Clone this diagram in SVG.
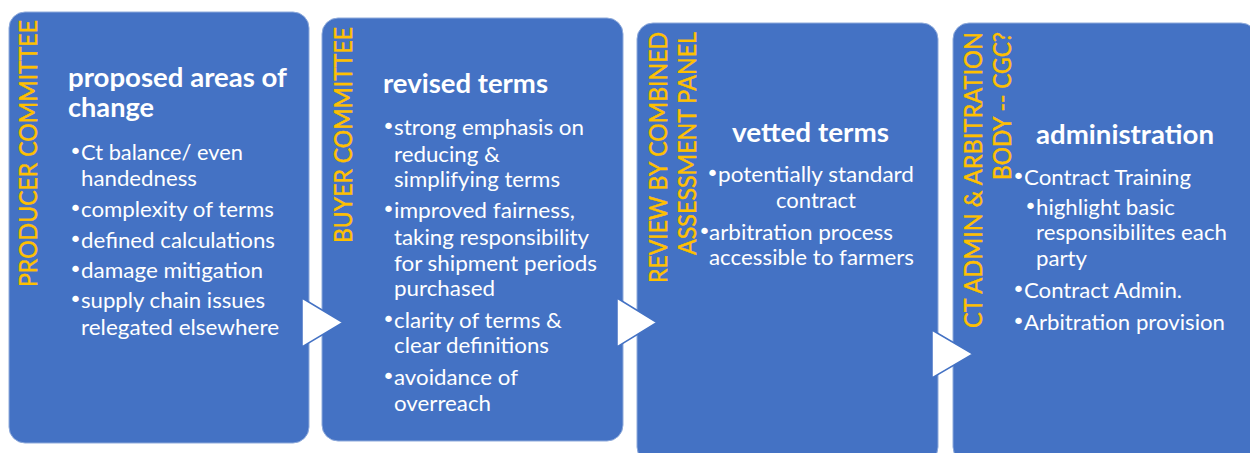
<svg xmlns="http://www.w3.org/2000/svg" width="1250" height="453" viewBox="0 0 1250 453">
<style>
.panel{fill:#4472C4;stroke:#8eaadb;stroke-width:1}
.vert{font-family:Lato,"Liberation Sans",sans-serif;font-size:25px;fill:#FFC000;stroke:#FFC000;stroke-width:0.45;text-anchor:end}
.title{font-family:Lato,"Liberation Sans",sans-serif;font-size:27px;font-weight:bold;fill:#ffffff}
.body{font-family:Lato,"Liberation Sans",sans-serif;font-size:22px;fill:#ffffff}
.bul{font-family:"DejaVu Sans",sans-serif;font-size:22px;fill:#ffffff;text-anchor:middle}
.arrow{fill:#ffffff;stroke:#4472C4;stroke-width:1.5;stroke-linejoin:miter}
</style>
<rect width="1250" height="453" fill="#ffffff"/>
<g id="node-producer">
<rect class="panel" x="9" y="12" width="300" height="431" rx="16"/>
<text class="vert" transform="translate(37,20) rotate(-90)" textLength="267" lengthAdjust="spacingAndGlyphs">PRODUCER COMMITTEE</text>
<text class="title" x="68" y="87" textLength="219" lengthAdjust="spacingAndGlyphs">proposed areas of</text>
<text class="title" x="68" y="117" textLength="86" lengthAdjust="spacingAndGlyphs">change</text>
<text class="bul" x="75.5" y="159">•</text><text class="body" x="81" y="160" textLength="162" lengthAdjust="spacingAndGlyphs">Ct balance/ even</text>
<text class="body" x="81" y="186" textLength="116" lengthAdjust="spacingAndGlyphs">handedness</text>
<text class="bul" x="75.5" y="216">•</text><text class="body" x="81" y="217" textLength="193" lengthAdjust="spacingAndGlyphs">complexity of terms</text>
<text class="bul" x="75.5" y="247">•</text><text class="body" x="81" y="248" textLength="194" lengthAdjust="spacingAndGlyphs">defined calculations</text>
<text class="bul" x="75.5" y="277">•</text><text class="body" x="81" y="278" textLength="182" lengthAdjust="spacingAndGlyphs">damage mitigation</text>
<text class="bul" x="75.5" y="307">•</text><text class="body" x="81" y="308" textLength="184" lengthAdjust="spacingAndGlyphs">supply chain issues</text>
<text class="body" x="81" y="335" textLength="198" lengthAdjust="spacingAndGlyphs">relegated elsewhere</text>
</g>
<g id="node-buyer">
<rect class="panel" x="322" y="18" width="301" height="423" rx="16"/>
<text class="vert" transform="translate(352,27) rotate(-90)" textLength="216" lengthAdjust="spacingAndGlyphs">BUYER COMMITTEE</text>
<text class="title" x="383" y="93" textLength="165" lengthAdjust="spacingAndGlyphs">revised terms</text>
<text class="bul" x="388.5" y="134">•</text><text class="body" x="394" y="135" textLength="190" lengthAdjust="spacingAndGlyphs">strong emphasis on</text>
<text class="body" x="394" y="162" textLength="106" lengthAdjust="spacingAndGlyphs">reducing &amp;</text>
<text class="body" x="394" y="187" textLength="166" lengthAdjust="spacingAndGlyphs">simplifying terms</text>
<text class="bul" x="388.5" y="217">•</text><text class="body" x="394" y="218" textLength="181" lengthAdjust="spacingAndGlyphs">improved fairness,</text>
<text class="body" x="394" y="245" textLength="195" lengthAdjust="spacingAndGlyphs">taking responsibility</text>
<text class="body" x="394" y="271" textLength="203" lengthAdjust="spacingAndGlyphs">for shipment periods</text>
<text class="body" x="394" y="296" textLength="101" lengthAdjust="spacingAndGlyphs">purchased</text>
<text class="bul" x="388.5" y="327">•</text><text class="body" x="394" y="328" textLength="168" lengthAdjust="spacingAndGlyphs">clarity of terms &amp;</text>
<text class="body" x="394" y="353" textLength="155" lengthAdjust="spacingAndGlyphs">clear definitions</text>
<text class="bul" x="388.5" y="384">•</text><text class="body" x="394" y="385" textLength="124" lengthAdjust="spacingAndGlyphs">avoidance of</text>
<text class="body" x="394" y="411" textLength="97" lengthAdjust="spacingAndGlyphs">overreach</text>
</g>
<g id="node-review">
<rect class="panel" x="637" y="23" width="301" height="440" rx="16"/>
<text class="vert" transform="translate(667,32) rotate(-90)" textLength="251" lengthAdjust="spacingAndGlyphs">REVIEW BY COMBINED</text>
<text class="vert" transform="translate(696,32) rotate(-90)" textLength="223" lengthAdjust="spacingAndGlyphs">ASSESSMENT PANEL</text>
<text class="title" x="732" y="142" textLength="157" lengthAdjust="spacingAndGlyphs">vetted terms</text>
<text class="bul" x="712.5" y="181">•</text><text class="body" x="718" y="182" textLength="196" lengthAdjust="spacingAndGlyphs">potentially standard</text>
<text class="body" x="776" y="208" textLength="80" lengthAdjust="spacingAndGlyphs">contract</text>
<text class="bul" x="704.5" y="239">•</text><text class="body" x="709" y="240" textLength="184" lengthAdjust="spacingAndGlyphs">arbitration process</text>
<text class="body" x="709" y="265" textLength="205" lengthAdjust="spacingAndGlyphs">accessible to farmers</text>
</g>
<g id="node-admin">
<rect class="panel" x="953" y="23" width="304" height="440" rx="16"/>
<text class="vert" transform="translate(982,32) rotate(-90)" textLength="296" lengthAdjust="spacingAndGlyphs">CT ADMIN &amp; ARBITRATION</text>
<text class="vert" transform="translate(1011,32) rotate(-90)" textLength="148" lengthAdjust="spacingAndGlyphs">BODY -- CGC?</text>
<text class="title" x="1036" y="144" textLength="178" lengthAdjust="spacingAndGlyphs">administration</text>
<text class="bul" x="1018.5" y="184">•</text><text class="body" x="1024" y="185" textLength="167" lengthAdjust="spacingAndGlyphs">Contract Training</text>
<text class="bul" x="1030.5" y="214">•</text><text class="body" x="1036" y="215" textLength="139" lengthAdjust="spacingAndGlyphs">highlight basic</text>
<text class="body" x="1036" y="240" textLength="191" lengthAdjust="spacingAndGlyphs">responsibilites each</text>
<text class="body" x="1036" y="266" textLength="51" lengthAdjust="spacingAndGlyphs">party</text>
<text class="bul" x="1018.5" y="297">•</text><text class="body" x="1024" y="298" textLength="158" lengthAdjust="spacingAndGlyphs">Contract Admin.</text>
<text class="bul" x="1018.5" y="329">•</text><text class="body" x="1024" y="330" textLength="201" lengthAdjust="spacingAndGlyphs">Arbitration provision</text>
</g>
<g id="connectors">
<polygon class="arrow" points="302,298 343,322.5 302,347"/>
<polygon class="arrow" points="617,298 657,322.5 617,347"/>
<polygon class="arrow" points="932,330 973,354 932,378"/>
</g>
</svg>
